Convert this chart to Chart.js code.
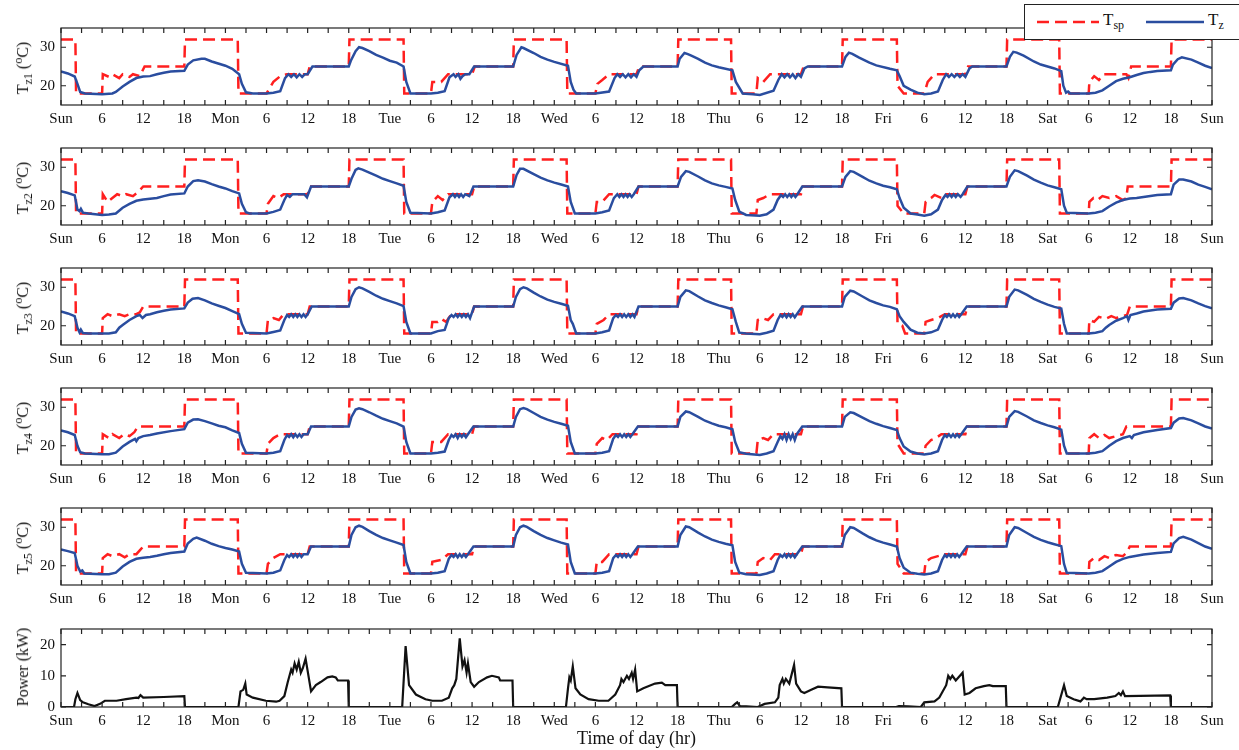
<!DOCTYPE html>
<html>
<head>
<meta charset="utf-8">
<script src="https://cdn.jsdelivr.net/npm/chart.js@4.4.1/dist/chart.umd.min.js"></script>
<style>
body{margin:0;background:#fff;}
#wrap{position:relative;width:1239px;height:750px;overflow:hidden;font-family:"Liberation Serif","DejaVu Serif",serif;color:#111;}
#wrap canvas{position:absolute;left:0;}
.ylab{position:absolute;left:23px;transform:translate(-50%,-50%) rotate(-90deg);font-size:16px;white-space:nowrap;line-height:16px;}
.ylab sub,.ylab sup{font-size:12px;line-height:0;}
#legend{position:absolute;left:1024px;top:4px;width:220px;height:34px;border:1px solid #222;background:#fff;z-index:5;}
#legend svg{position:absolute;top:14px;}
#legend .lt{position:absolute;top:5px;font-size:17px;}
#legend sub{font-size:12px;}
</style>
</head>
<body>
<div id="wrap">
  <div id="legend">
    <svg style="left:12px" width="62" height="6"><line x1="0" y1="3" x2="62" y2="3" stroke="#ff1f1f" stroke-width="2.5" stroke-dasharray="12,6"/></svg>
    <span class="lt" style="left:78px">T<sub>sp</sub></span>
    <svg style="left:121px" width="58" height="6"><line x1="0" y1="3" x2="58" y2="3" stroke="#2a4d9f" stroke-width="2.5"/></svg>
    <span class="lt" style="left:183px">T<sub>z</sub></span>
  </div>
</div>
<script>
// labels
const dayLabels = ['Sun', 'Mon', 'Tue', 'Wed', 'Thu', 'Fri', 'Sat', 'Sun'];
const tempTicks = [20, 30];
const powerTicks = [0, 10, 20];
const zoneNames = ['z1', 'z2', 'z3', 'z4', 'z5'];

// zone temperatures [hour, degC]
const tz1 = [[0,23.7],[1,23.2],[2,22.4],[2.4,20.5],[2.8,18.4],[3.5,18],[6,17.8],[7.5,18],[8,18.4],[9,19.8],[10,21],[11,22],[12,22.4],[13,22.5],[14,23],[15,23.4],[16,23.7],[18,23.9],[18.5,25.5],[19.3,26.6],[20.5,27],[21,27],[22,26.3],[24,25.2],[25,24.4],[26,23],[26.4,20.5],[27,18.3],[28,18],[30,18],[31,18.2],[32,18.6],[32.7,22],[33.2,23],[33.6,22.3],[34,23],[34.4,22.2],[34.8,23],[35.2,22.3],[35.6,23],[36,23],[36.7,25],[42,25],[42.3,26.5],[43,29],[43.5,30],[44,29.8],[45,29],[46,28],[47,27.3],[48,26.5],[49,26],[50,25],[50.4,21],[51,18],[54,18],[55,18.2],[56,18.6],[56.7,22.2],[57.3,23],[57.6,22.3],[58,23],[58.3,21.8],[58.6,22.5],[59,23],[59.6,23],[60.3,25],[66,25],[66.5,28],[67.2,30],[67.5,29.8],[69,28.5],[70,27.5],[71,26.8],[72,26.2],[74,25.2],[74.4,21],[74.8,19],[75.2,18],[78,18],[80,18.5],[80.8,22],[81.2,23],[81.6,22.3],[82,23],[82.4,22.2],[82.8,23],[83.2,22.2],[83.6,23],[84,22.3],[84.4,24],[85,25],[90,25],[90.3,27],[91,28.5],[91.5,28.2],[92,27.8],[93,27],[94,26],[95,25.3],[96,24.8],[98,24],[98.5,21],[99.5,18],[101,17.8],[102,17.6],[104,18.7],[104.7,21.5],[105.2,23],[105.6,22.2],[106,23],[106.4,22.2],[106.8,23],[107.2,22],[107.6,23],[108,22.3],[108.5,24.5],[109,25],[114,25],[114.5,27.5],[115,28.6],[115.5,28.3],[116.5,27.3],[118,26],[119,25.3],[121,24.4],[122,24],[122.4,22.5],[123,20],[124,19],[125,18.2],[126,17.8],[127,18],[128,18.5],[128.7,21.5],[129.2,23],[129.6,22.3],[130,23],[130.4,22.3],[130.8,23],[131.2,22.3],[131.6,23],[132,22.3],[132.6,24.5],[133,25],[138,25],[138.5,27.5],[139,28.8],[139.5,28.6],[140.5,27.8],[142,26.3],[143,25.5],[145,24.5],[146,23.8],[146.3,20],[146.7,18.2],[147,18.5],[147.3,18],[150,18],[151,18.2],[152,18.8],[153,20],[154,21.2],[155,21.8],[156,22.2],[157,22.8],[158,23.3],[159,23.6],[160,23.8],[162,24],[162.3,25.5],[163,26.9],[163.6,27.4],[165,26.8],[166,26],[167,25.2],[168,24.6]];
const tz2 = [[0,23.8],[1,23.3],[2,22.7],[2.4,19],[2.7,18.6],[2.9,19.2],[3.2,18.2],[4,18],[6,17.6],[7,17.7],[8,18],[9,19.5],[10,20.5],[11,21.3],[12,21.6],[13,21.8],[14,22],[15,22.5],[16,22.9],[18,23.2],[18.5,25],[19.3,26.4],[20,26.6],[21,26.3],[22,25.6],[23,25],[24,24.5],[25,23.8],[26,23.2],[26.4,20.5],[27,18.3],[27.5,18],[30,18],[31,18.4],[32,19],[32.6,21.5],[33,22.8],[33.4,22.3],[33.8,23],[34.5,23],[35.5,23],[35.9,22.2],[36.5,25],[42,25],[42.4,27],[43,29.3],[43.4,29.7],[44,29.4],[45,28.6],[46,27.8],[47,27],[48,26.4],[49,25.8],[50,25.2],[50.4,21],[51,18.2],[54,18],[55,18.3],[56,18.8],[56.7,22.2],[57.2,23],[57.5,22.3],[57.8,23],[58.1,22.3],[58.4,23],[58.7,22.3],[59,23],[59.6,22.5],[60.2,25],[66,25],[66.5,28],[67,29.6],[67.5,29.6],[69,28.2],[70,27.3],[71,26.6],[72,26],[73,25.5],[74,25],[74.4,21],[75,18],[78,18],[79,18.3],[80,18.8],[80.7,22],[81.2,23],[81.5,22.3],[81.8,23],[82.1,22.3],[82.4,23],[82.7,22.3],[83,23],[83.3,22.3],[83.6,23],[84.3,25],[90,25],[90.5,27.5],[91.2,29],[91.7,28.8],[93,27.6],[94,26.6],[95,25.8],[96,25.3],[97,24.9],[98,24.5],[98.4,21.5],[99,18.5],[100,17.6],[102,17.4],[103,17.8],[104,19],[104.6,21.5],[105.1,22.8],[105.4,22.3],[105.7,23],[106,22.3],[106.3,23],[106.6,22.3],[106.9,23],[107.2,22.3],[107.5,23],[108.2,25],[114,25],[114.5,27.5],[115.2,29],[115.7,28.8],[117,27.5],[118,26.5],[119,25.8],[120,25.2],[121,24.8],[122,24.3],[122.4,22],[123,19.5],[124,18],[125,17.7],[126,17.4],[127,17.8],[128,19],[128.6,21.5],[129.1,22.8],[129.4,22.3],[129.7,23],[130,22.3],[130.3,23],[130.6,22.3],[130.9,23],[131.3,22.3],[131.6,23],[132.3,25],[138,25],[138.5,27.5],[139.2,29.2],[139.7,29],[141,27.8],[142,26.8],[143,26],[144,25.3],[145,24.8],[146,24.3],[146.4,20],[146.8,18.2],[150,18],[151,18.2],[152,18.6],[153,19.8],[154,20.8],[155,21.5],[156,21.9],[157,22],[158,22.3],[160,22.8],[162,23],[162.4,25.5],[163.2,26.8],[163.8,26.8],[165,26.3],[166,25.5],[167,24.9],[168,24.3]];
const tz3 = [[0,23.7],[1,23.2],[2,22.5],[2.4,19.5],[2.7,18.3],[2.9,19],[3.2,18.1],[4,18],[6,18],[7,18],[8,18.3],[8.5,19.5],[9,20.2],[10,21.5],[11,22.5],[11.5,22.8],[11.9,22],[12.4,22.8],[13,23],[14,23.5],[15,23.9],[16,24.2],[18,24.5],[18.5,26],[19.2,27],[20,27.2],[21,26.6],[22,25.8],[23,25.2],[24,24.6],[25,23.8],[26,23],[26.4,20.5],[27,18.2],[30,18],[31,18.4],[32,18.8],[32.6,21.5],[33,22.8],[33.3,22.3],[33.6,23],[33.9,22.3],[34.2,23],[34.5,22.3],[34.8,23],[35.1,22.3],[35.4,23],[35.7,22.3],[36,23],[36.6,25],[42,25],[42.4,27.5],[43,29.5],[43.5,30],[44,29.7],[45,28.8],[46,27.8],[47,27],[48,26.4],[49,25.8],[50,25.1],[50.4,21],[51,18],[54,18],[55,18.6],[56,18.9],[56.6,22],[57,22.8],[57.3,22.3],[57.6,23],[57.9,22.3],[58.2,23],[58.5,22.3],[58.8,23],[59.1,22.3],[59.4,23],[59.7,22],[60.3,25],[66,25],[66.4,27.5],[67,29.5],[67.5,30],[68,29.7],[69,28.6],[70,27.6],[71,26.8],[72,26.2],[73,25.7],[74,25.2],[74.4,21.5],[74.7,20.5],[75.2,18],[78,18],[79,18.3],[80,18.8],[80.6,22],[81,22.8],[81.3,22.3],[81.6,23],[81.9,22.3],[82.2,23],[82.5,22.3],[82.8,23],[83.1,22.3],[83.4,23],[83.7,22.3],[84.3,25],[90,25],[90.4,27.5],[91.2,29.2],[91.7,29],[93,27.6],[94,26.6],[95,25.9],[96,25.3],[97,24.8],[98,24.3],[98.5,21],[99,18.2],[100,18],[102,17.8],[103,18.2],[104,18.7],[104.6,21.5],[105,22.8],[105.3,22.3],[105.6,23],[105.9,22.2],[106.2,23],[106.5,22.3],[106.8,23],[107.1,22.2],[107.4,23],[108.2,25],[114,25],[114.4,27.5],[115.2,29.1],[115.7,28.9],[117,27.6],[118,26.6],[119,25.9],[120,25.3],[121,24.9],[122,24.3],[122.4,22.5],[123,21],[124,19],[125,18.2],[126,18],[127,18.3],[128,19],[128.6,21.5],[129,22.8],[129.3,22.3],[129.6,23],[129.9,22.3],[130.2,23],[130.5,22.3],[130.8,23],[131.1,22.3],[131.4,23],[132.2,25],[138,25],[138.4,27.5],[139.2,29.4],[139.7,29.2],[141,28],[142,27],[143,26.2],[144,25.5],[145,24.9],[146,24.5],[146.4,20.5],[146.8,18],[150,18],[151,18.2],[152,18.6],[152.5,19.5],[153,20.2],[154,21.3],[155,22],[155.6,22.5],[155.8,21.5],[156.1,22.8],[157,23.2],[158,23.7],[160,24.2],[162,24.4],[162.4,26],[163.2,27.1],[163.8,27.2],[165,26.6],[166,25.8],[167,25.1],[168,24.5]];
const tz4 = [[0,24],[1,23.5],[2,22.8],[2.4,20],[2.8,18.3],[3.5,18],[6,17.8],[7,17.8],[8,18.2],[9,19.8],[10,21],[10.8,21.8],[11,21.2],[11.3,22],[12,22.5],[13,22.8],[14,23.2],[16,23.8],[18,24.3],[18.5,26],[19.3,26.8],[20,26.9],[21,26.4],[22,25.8],[23,25.2],[24,24.8],[25,24],[26,23.3],[26.4,20.5],[27,18.2],[30,18],[31,18.2],[32,18.6],[32.6,21.5],[33,22.8],[33.3,22.3],[33.6,23],[33.9,22.2],[34.2,23],[34.5,22.3],[34.8,23],[35.1,22.3],[35.4,23],[36,23],[36.5,25],[42,25],[42.4,27.5],[43,29.4],[43.5,29.7],[44,29.5],[45,28.7],[46,27.8],[47,27],[48,26.4],[49,25.8],[50,25],[50.4,21],[51,18],[54,18],[55,18.2],[56,18.5],[56.6,21.5],[57,22.8],[57.3,22.3],[57.6,23],[57.9,22],[58.2,23],[58.5,22.3],[58.8,23],[59.1,22.2],[59.4,23],[60.2,25],[66,25],[66.4,27.5],[67,29.5],[67.5,29.8],[68,29.5],[69,28.5],[70,27.5],[71,26.8],[72,26.2],[73,25.7],[74,25.2],[74.4,21],[75,18],[78,18],[79,18.2],[80,18.6],[80.6,21.8],[81,22.8],[81.3,22.3],[81.6,23],[81.9,22.3],[82.2,23],[82.5,22.3],[82.8,23],[83.1,22.3],[83.4,23],[84.2,25],[90,25],[90.4,27.5],[91.2,28.9],[91.7,28.7],[93,27.5],[94,26.5],[95,25.8],[96,25.2],[97,24.8],[98,24.3],[98.4,21],[99,18.3],[100,17.9],[102,17.6],[103,18],[104,18.6],[104.6,21],[105,22.5],[105.3,21.8],[105.6,23],[105.9,21.5],[106.2,23],[106.5,21.8],[106.8,23],[107.1,21.5],[107.4,23],[108.2,25],[114,25],[114.4,27.5],[115.2,28.7],[115.7,28.5],[117,27.3],[118,26.4],[119,25.7],[120,25.1],[121,24.6],[122,24.1],[122.4,22],[123,19.8],[124,18.5],[125,18],[126,17.7],[127,18],[128,18.6],[128.6,21.5],[129,22.8],[129.3,22.3],[129.6,23],[129.9,22.3],[130.2,23],[130.5,22.3],[130.8,23],[131.1,22.3],[131.4,23],[132.2,25],[138,25],[138.4,27.5],[139.2,29],[139.7,28.8],[141,27.6],[142,26.6],[143,25.9],[144,25.3],[145,24.8],[146,24.2],[146.4,20],[146.8,18],[150,18],[151,18.2],[152,18.6],[153,20],[154,21.2],[155,22],[156,22.5],[156.3,22],[156.6,22.8],[158,23.5],[160,24.1],[162,24.6],[162.4,26],[163.2,27.1],[163.8,27.2],[165,26.6],[166,25.8],[167,25],[168,24.5]];
const tz5 = [[0,24.2],[1,23.8],[2,23.3],[2.4,20],[2.8,18.5],[3.1,18.8],[3.4,18],[6,17.8],[7,17.8],[8,18.2],[9,19.8],[10,21],[11,21.8],[12,22.1],[13,22.3],[14,22.6],[15,23],[16,23.3],[18,23.7],[18.5,25.8],[19.3,27],[19.8,27.3],[21,26.5],[22,25.7],[23,25.1],[24,24.6],[25,24.2],[26,23.7],[26.4,20.5],[27,18.2],[30,18],[31,18.2],[32,18.8],[32.6,21.5],[33,22.8],[33.3,22.3],[33.6,23],[33.9,22.3],[34.2,23],[34.5,22.3],[34.8,23],[35.1,22.3],[35.4,23],[36,23],[36.5,25],[42,25],[42.4,28],[43,30],[43.5,30.4],[44,30.1],[45,29],[46,28],[47,27.2],[48,26.6],[49,26],[50,25.4],[50.4,21],[51,18],[54,18],[55,18.2],[56,18.6],[56.6,21.8],[57,22.8],[57.3,22.3],[57.6,23],[57.9,22.2],[58.2,23],[58.5,22.3],[58.8,23],[59.1,22.3],[59.4,23],[60.2,25],[66,25],[66.4,28],[67,30],[67.5,30.4],[68,30.1],[69,29],[70,28],[71,27.2],[72,26.6],[73,26],[74,25.5],[74.4,21],[75,18],[78,18],[79,18.2],[80,18.6],[80.6,22],[81,22.8],[81.3,22.3],[81.6,23],[81.9,22.3],[82.2,23],[82.5,22.3],[82.8,23],[83.1,22.3],[83.4,23],[84.2,25],[90,25],[90.4,28],[91.2,30.2],[91.7,30],[93,28.6],[94,27.6],[95,26.8],[96,26.2],[97,25.7],[98,25.3],[98.4,21],[99,18.2],[100,17.8],[102,17.6],[103,18],[104,18.6],[104.6,21.5],[105,22.8],[105.3,22.3],[105.6,23],[105.9,22.2],[106.2,23],[106.5,22.3],[106.8,23],[107.1,22.2],[107.4,23],[108.2,25],[114,25],[114.4,28],[115.2,30],[115.7,29.8],[117,28.4],[118,27.4],[119,26.6],[120,26],[121,25.5],[122,25],[122.4,22],[123,19.5],[124,18.2],[125,17.9],[126,17.7],[127,18],[128,18.6],[128.6,21.5],[129,22.8],[129.3,22.3],[129.6,23],[129.9,22.3],[130.2,23],[130.5,22.3],[130.8,23],[131.1,22.3],[131.4,23],[132.2,25],[138,25],[138.4,28],[139.2,30],[139.7,29.8],[141,28.5],[142,27.5],[143,26.7],[144,26.1],[145,25.6],[146,25.1],[146.4,20.5],[146.8,18.2],[150,18],[151,18.2],[152,18.6],[153,19.8],[154,21],[155,21.8],[156,22.3],[157,22.6],[158,22.9],[160,23.3],[162,23.6],[162.4,25.8],[163.2,27.2],[163.8,27.5],[165,26.8],[166,25.9],[167,25],[168,24.4]];

// setpoints [hour, degC]
const tsp1 = [[0,32],[2.1,32],[2.2,18],[6,18],[6.1,23],[7,22.3],[7.5,23],[8.5,22],[9,23],[10,22.3],[10.5,23],[11.5,22.5],[12.2,25],[18,25],[18.1,32],[25.8,32],[25.9,18],[30,18],[31,21],[32,22.5],[33,23],[36,23],[36.3,25],[42,25],[42.1,32],[50,32],[50.1,18],[54,18],[54.2,21],[55.5,21],[56.5,23],[60,23],[60.4,25],[66,25],[66.1,32],[73.8,32],[73.9,18],[78,18],[78.3,20.5],[79,21.5],[80,23],[84,23],[84.4,25],[90,25],[90.1,32],[97.8,32],[97.9,18],[101.5,18],[101.7,22],[102.5,21],[103.5,23],[108,23],[108.4,25],[114,25],[114.1,32],[122,32],[122.1,20],[123,18],[126,18],[126.5,21],[127.5,23],[132,23],[132.4,25],[138,25],[138.1,32],[145.7,32],[145.8,18],[150,18],[150.1,21],[150.8,22.5],[151.5,21.5],[152.2,23],[155.5,23],[155.8,22],[156.2,25],[162,25],[162.1,32],[168,32]];
const tsp2 = [[0,32],[2.1,32],[2.2,18],[6,18],[6.1,23],[6.8,21],[7.5,22],[8.2,23],[9,22.5],[9.5,23],[10.5,22.5],[11.2,23.5],[12,25],[18,25],[18.1,32],[25.8,32],[25.9,18],[30,18],[30.2,20.5],[31,22.5],[31.7,22],[32.5,23],[36,23],[36.3,25],[42,25],[42.1,32],[50,32],[50.1,18],[54,18],[54.2,21],[55,22.5],[55.7,21.5],[56.5,23],[60,23],[60.3,25],[66,25],[66.1,32],[73.8,32],[73.9,18],[78,18],[78.2,21],[79,21],[80,23],[84,23],[84.3,25],[90,25],[90.1,32],[97.8,32],[97.9,18],[101.5,18],[101.7,21.5],[102.5,22],[103.5,23],[108,23],[108.3,25],[114,25],[114.1,32],[122,32],[122.1,20],[123,18],[126,18],[126.2,21],[127,22],[127.5,22.8],[128.5,22],[129,23],[132,23],[132.3,25],[138,25],[138.1,32],[145.7,32],[145.8,18],[150,18],[150.1,21],[150.7,22],[151.3,21.5],[152,22.5],[153,22],[154,22.5],[155,21.5],[155.5,22],[155.7,25],[162,25],[162.1,32],[168,32]];
const tsp3 = [[0,32],[2.1,32],[2.2,18],[6,18],[6.1,22],[6.8,23],[7.5,22.5],[8.5,23],[9.3,22.5],[10,23],[11,23],[11.5,23.5],[12,25],[18,25],[18.1,32],[25.8,32],[25.9,18],[30,18],[30.2,21.5],[31,22],[31.8,21.5],[32.5,23],[36,23],[36.3,25],[42,25],[42.1,32],[50,32],[50.1,18],[54,18],[54.2,21],[55,21],[55.5,21.8],[56.2,21],[57,23],[60,23],[60.3,25],[66,25],[66.1,32],[73.8,32],[73.9,18],[78,18],[78.2,20.5],[79.2,21.5],[80,23],[84,23],[84.3,25],[90,25],[90.1,32],[97.8,32],[97.9,18],[101.5,18],[101.7,21.5],[102.3,22],[103.2,21.5],[104,23],[108,23],[108.3,25],[114,25],[114.1,32],[122,32],[122.1,20.5],[122.8,20],[123.2,18],[126,18],[126.2,21],[127,21.5],[128,22],[129,23],[132,23],[132.3,25],[138,25],[138.1,32],[145.7,32],[145.8,18],[150,18],[150.1,21.5],[150.8,21],[151.5,22.3],[152.5,21.8],[153.3,22.5],[154,22],[155,22.5],[155.6,22.8],[156,25],[162,25],[162.1,32],[168,32]];
const tsp4 = [[0,32],[2.1,32],[2.2,18],[6,18],[6.1,23],[7,22],[7.5,23],[8.5,22],[9.2,23],[10,22.5],[10.7,23.5],[11.2,25],[18,25],[18.1,32],[25.8,32],[25.9,18],[30,18],[30.2,20.5],[31,22],[32,23],[36,23],[36.3,25],[42,25],[42.1,32],[50,32],[50.1,18],[54,18],[54.2,21],[55.5,21],[56.5,23],[60,23],[60.3,25],[66,25],[66.1,32],[73.8,32],[73.9,18],[78,18],[78.2,20.5],[79,22],[79.7,21.5],[80.5,23],[84,23],[84.3,25],[90,25],[90.1,32],[97.8,32],[97.9,18],[101.5,18],[101.7,21.5],[102.5,22],[103.2,21.5],[104,23],[108,23],[108.3,25],[114,25],[114.1,32],[122,32],[122.1,20.5],[123,18],[126,18],[126.2,20],[127,21.5],[127.7,22],[128.5,23],[132,23],[132.3,25],[138,25],[138.1,32],[145.7,32],[145.8,18],[150,18],[150.1,22],[150.8,23],[151.5,22],[152.3,22.8],[153,22],[154,22.5],[155,23],[155.5,25],[162,25],[162.1,32],[168,32]];
const tsp5 = [[0,32],[2.1,32],[2.2,18],[6,18],[6.1,22],[6.8,23],[7.5,22.5],[8.5,23],[9.3,22.2],[10,23],[11,23],[11.5,24],[12,25],[18,25],[18.1,32],[25.8,32],[25.9,18],[30,18],[30.2,20.5],[31,22],[32,23],[36,23],[36.3,25],[42,25],[42.1,32],[50,32],[50.1,18],[54,18],[54.2,21],[55.5,21.5],[56.5,23],[60,23],[60.3,25],[66,25],[66.1,32],[73.8,32],[73.9,18],[78,18],[78.2,21],[79,21],[80,23],[84,23],[84.3,25],[90,25],[90.1,32],[97.8,32],[97.9,18],[101.5,18],[101.7,21],[102.5,22],[103.5,21.5],[104.2,23],[108,23],[108.3,25],[114,25],[114.1,32],[122,32],[122.1,20.5],[123,18],[126,18],[126.2,21],[127,22],[128,22.5],[129,23],[132,23],[132.3,25],[138,25],[138.1,32],[145.7,32],[145.8,18],[150,18],[150.1,21],[150.8,22],[151.5,21.5],[152.3,22.5],[153,22],[154,22.8],[155,22.5],[155.6,23.5],[156,25],[162,25],[162.1,32],[168,32]];

// total HVAC power [hour, kW]
const power = [[0,0],[1.9,0],[2.1,2.5],[2.4,4.5],[2.8,2.2],[3.2,1.5],[4,0.9],[4.9,0.3],[5.7,1],[6.4,2],[8.1,2],[9.5,2.5],[11,3],[11.3,2.9],[11.6,3.8],[12,3],[15,3.2],[18,3.5],[18.1,0],[25.9,0],[26.2,5],[26.6,5.5],[26.9,7.5],[27.1,4],[28,3],[29.9,2],[31.4,1.7],[31.9,2],[32.6,3.5],[33.1,8],[33.6,12],[33.8,11],[34.1,14],[34.4,12],[34.7,14.5],[35,11],[35.3,12.5],[35.7,15.5],[36.5,5],[37.2,7],[37.9,8],[38.9,9.5],[39.6,9.8],[40.1,9.5],[40.4,8.5],[41.9,8.5],[42,0],[49.8,0],[50.3,19.5],[50.8,7],[51.8,4],[53.2,2.5],[54.2,2],[55.6,2],[56.6,3],[57.1,6],[57.4,7],[57.7,9],[58.2,22],[58.6,13],[58.9,15],[59.2,11],[59.4,14],[59.8,8],[60.3,6.5],[61,8],[62.2,9.5],[62.9,10],[63.9,9.5],[64.1,8.5],[65.9,8.5],[66,0],[73.7,0],[74,6],[74.2,9.5],[74.4,8.5],[74.7,13],[75.1,6],[75.8,4],[77,2.5],[78.5,2],[79.9,2],[80.9,4],[81.6,7],[81.8,9],[82.1,8],[82.6,10],[82.9,9],[83.3,11],[83.5,9],[83.8,12],[84.1,5],[85,6],[86.7,7.5],[87.7,7.8],[88.2,7],[89.9,7],[90,0],[97.9,0],[98.4,1],[98.7,1.5],[99.1,0.3],[100,0.2],[101.7,0],[102.7,1],[104.2,1.5],[104.7,3],[104.9,7],[105.3,9],[105.5,7.5],[105.8,9],[106.3,7.5],[107,13.5],[107.3,7.5],[108,5],[108.5,4.5],[109.5,5.5],[110.5,6.5],[111.9,6.3],[113.9,6],[114,0],[121.9,0],[122.3,0.3],[123.6,0.2],[125.5,0],[126,1.5],[127.5,1.8],[128.2,3],[129.2,7],[129.5,10],[129.8,9],[130.1,10],[130.6,8.5],[131.6,11],[131.9,4],[132.6,4.5],[133.5,6],[134.7,6.7],[135.5,7],[136,6.7],[137.9,6.7],[138,0],[145.5,0],[146.4,7],[146.8,3.5],[147.8,2.5],[148.8,1.8],[149.3,3],[149.7,2.5],[150.8,2.5],[152.7,3],[153.9,3.5],[154.4,4.5],[154.7,3.8],[155,5],[155.3,3.5],[161.9,3.7],[162,0],[168,0]];

const tzList = [tz1, tz2, tz3, tz4, tz5];
const tspList = [tsp1, tsp2, tsp3, tsp4, tsp5];

// layout of the six stacked axes (plot box top/bottom in px)
const boxTop = [25, 145, 265, 385, 505, 626];
const boxBottom = [105, 225, 345, 465, 585, 707];
const RED = '#ff1f1f', BLUE = '#2a4d9f';

Chart.defaults.font.family = '"Liberation Serif", "DejaVu Serif", serif';
Chart.defaults.color = '#111';

function toXY(arr) {
    return arr.map(p => ({x: p[0], y: p[1]}));
}

// box around the axes plus inward tick marks on all four sides
const framePlugin = {
    id: 'frame',
    afterDatasetsDraw(chart) {
        const {ctx, chartArea: a, scales} = chart;
        ctx.save();
        ctx.strokeStyle = '#222';
        ctx.lineWidth = 1.2;
        ctx.strokeRect(a.left, a.top, a.right - a.left, a.bottom - a.top);
        ctx.beginPath();
        for (const t of scales.x.ticks) {
            const px = scales.x.getPixelForValue(t.value);
            ctx.moveTo(px, a.top); ctx.lineTo(px, a.top + 5);
            ctx.moveTo(px, a.bottom); ctx.lineTo(px, a.bottom - 5);
        }
        for (const t of scales.y.ticks) {
            const py = scales.y.getPixelForValue(t.value);
            ctx.moveTo(a.left, py); ctx.lineTo(a.left + 5, py);
            ctx.moveTo(a.right, py); ctx.lineTo(a.right - 5, py);
        }
        ctx.stroke();
        ctx.restore();
    }
};

function makePanel(i, datasets, yMin, yMax, yTicks, last) {
    const wrap = document.getElementById('wrap');
    const xh = last ? 43 : 24;
    const cv = document.createElement('canvas');
    cv.width = 1239;
    cv.height = boxBottom[i] - boxTop[i] + 12 + xh;
    cv.style.top = (boxTop[i] - 12) + 'px';
    wrap.appendChild(cv);

    new Chart(cv, {
        type: 'line',
        data: {datasets: datasets},
        plugins: [framePlugin],
        options: {
            responsive: false,
            animation: false,
            devicePixelRatio: 1,
            layout: {padding: {top: 12, right: 27, left: 0, bottom: 0}},
            plugins: {legend: {display: false}, tooltip: {enabled: false}},
            elements: {point: {radius: 0}, line: {tension: 0}},
            scales: {
                x: {
                    type: 'linear', min: 0, max: 168,
                    grid: {display: false, drawTicks: false},
                    border: {display: false},
                    afterBuildTicks: s => {
                        const t = [];
                        for (let h = 0; h <= 168; h += 3) t.push({value: h});
                        s.ticks = t;
                    },
                    afterFit: s => { s.height = xh; },
                    ticks: {
                        autoSkip: false, maxRotation: 0, padding: 5,
                        font: {size: 15},
                        callback: v => v % 24 === 0 ? dayLabels[v / 24] : (v % 6 === 0 ? String(v % 24) : '')
                    },
                    title: {display: last, text: 'Time of day (hr)', font: {size: 18}, padding: 0}
                },
                y: {
                    min: yMin, max: yMax,
                    grid: {display: false, drawTicks: false},
                    border: {display: false},
                    afterBuildTicks: s => { s.ticks = yTicks.map(v => ({value: v})); },
                    afterFit: s => { s.width = 61; },
                    ticks: {padding: 6, font: {size: 15}}
                }
            }
        }
    });
}

for (let i = 0; i < 5; i++) {
    makePanel(i, [
        {label: 'Tz', data: toXY(tzList[i]), borderColor: BLUE, borderWidth: 2.5},
        {label: 'Tsp', data: toXY(tspList[i]), borderColor: RED, borderWidth: 2.5, borderDash: [12, 6]}
    ], 15, 35, tempTicks, false);

    const lab = document.createElement('div');
    lab.className = 'ylab';
    lab.style.top = ((boxTop[i] + boxBottom[i]) / 2 + 3) + 'px';
    lab.innerHTML = 'T<sub>' + zoneNames[i] + '</sub> (<sup>o</sup>C)';
    document.getElementById('wrap').appendChild(lab);
}

makePanel(5, [
    {label: 'Power', data: toXY(power), borderColor: '#111', borderWidth: 2.2}
], 0, 25, powerTicks, true);

const plab = document.createElement('div');
plab.className = 'ylab';
plab.style.top = ((boxTop[5] + boxBottom[5]) / 2) + 'px';
plab.textContent = 'Power (kW)';
document.getElementById('wrap').appendChild(plab);
</script>
</body>
</html>
